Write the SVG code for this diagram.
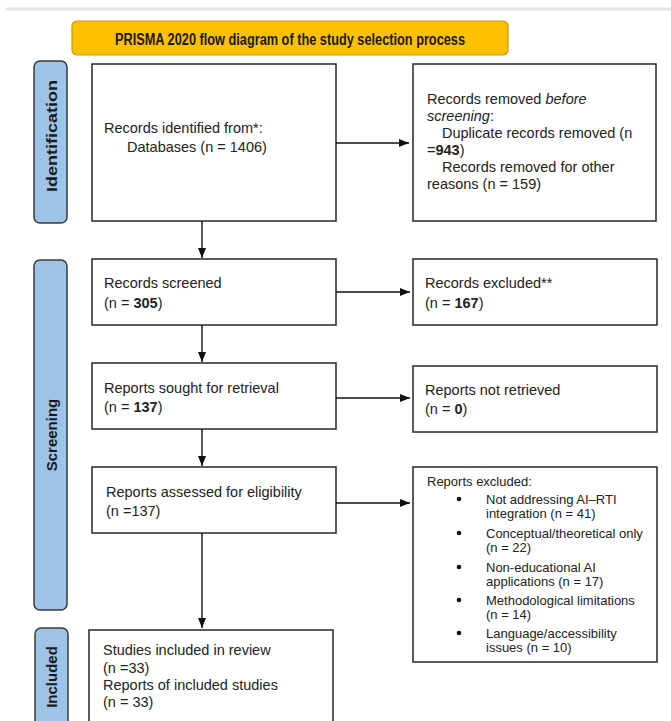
<svg xmlns="http://www.w3.org/2000/svg" width="671" height="721" viewBox="0 0 671 721">
<style>
  .box { fill: #ffffff; stroke: #262626; stroke-width: 1.5; }
  .side { fill: #9dc3e6; stroke: #3a3a3a; stroke-width: 1.5; }
  .sidetxt { font-family: "Liberation Sans", Arial, sans-serif; font-weight: bold; font-size: 15px; fill: #1a1a1a; text-anchor: middle; }
  .t { font-family: "Liberation Sans", Arial, sans-serif; font-size: 14.5px; fill: #222222; }
  .s { font-family: "Liberation Sans", Arial, sans-serif; font-size: 13px; fill: #222222; }
  .b { font-weight: bold; }
  .i { font-style: italic; }
  .conn { stroke: #111111; stroke-width: 1.4; fill: none; }
</style>
<defs>
  <marker id="arr" viewBox="0 0 10 8" refX="10" refY="4" markerWidth="10" markerHeight="8" markerUnits="userSpaceOnUse" orient="auto">
    <path d="M0,0 L10,4 L0,8 Z" fill="#111111"/>
  </marker>
</defs>
<rect width="671" height="721" fill="#ffffff"/>
<line x1="6" y1="9" x2="671" y2="9" stroke="#e3e3e3" stroke-width="3"/>

<g id="title">
  <rect x="72" y="21" width="436" height="34" rx="5" fill="#ffc000" stroke="#c99a06" stroke-width="1.2"/>
  <text x="290" y="45" text-anchor="middle" font-family="'Liberation Sans', Arial, sans-serif" font-weight="bold" font-size="16" fill="#1a1a1a" textLength="350" lengthAdjust="spacingAndGlyphs">PRISMA 2020 flow diagram of the study selection process</text>
</g>

<g id="phase-identification">
  <rect class="side" x="34" y="61" width="33" height="162" rx="6"/>
  <text class="sidetxt" transform="translate(57,136) rotate(-90)" textLength="112" lengthAdjust="spacingAndGlyphs">Identification</text>
</g>
<g id="phase-screening">
  <rect class="side" x="34" y="260" width="33" height="350" rx="6"/>
  <text class="sidetxt" transform="translate(57,435) rotate(-90)">Screening</text>
</g>
<g id="phase-included">
  <rect class="side" x="35" y="628" width="33" height="110" rx="6"/>
  <text class="sidetxt" transform="translate(57,677) rotate(-90)">Included</text>
</g>

<g id="records-identified">
  <rect class="box" x="92" y="64" width="244" height="157"/>
  <text class="t" x="104" y="133">Records identified from*:</text>
  <text class="t" x="127" y="152">Databases (n = 1406)</text>
</g>

<g id="records-removed">
  <rect class="box" x="413" y="64" width="243" height="157"/>
  <text class="t" x="427" y="104">Records removed <tspan class="i">before</tspan></text>
  <text class="t" x="427" y="121"><tspan class="i">screening</tspan>:</text>
  <text class="t" x="442" y="138">Duplicate records removed (n</text>
  <text class="t" x="427" y="155">=<tspan class="b">943</tspan>)</text>
  <text class="t" x="442" y="172">Records removed for other</text>
  <text class="t" x="427" y="189">reasons (n = 159)</text>
</g>

<g id="records-screened">
  <rect class="box" x="92" y="259" width="244" height="66"/>
  <text class="t" x="104" y="288">Records screened</text>
  <text class="t" x="104" y="308">(n = <tspan class="b">305</tspan>)</text>
</g>

<g id="records-excluded">
  <rect class="box" x="413" y="259" width="244" height="66"/>
  <text class="t" x="425" y="288">Records excluded**</text>
  <text class="t" x="425" y="308">(n = <tspan class="b">167</tspan>)</text>
</g>

<g id="reports-sought">
  <rect class="box" x="92" y="363" width="244" height="66"/>
  <text class="t" x="104" y="393">Reports sought for retrieval</text>
  <text class="t" x="104" y="412">(n = <tspan class="b">137</tspan>)</text>
</g>

<g id="reports-not-retrieved">
  <rect class="box" x="413" y="366" width="244" height="66"/>
  <text class="t" x="425" y="395">Reports not retrieved</text>
  <text class="t" x="425" y="414">(n = <tspan class="b">0</tspan>)</text>
</g>

<g id="reports-assessed">
  <rect class="box" x="92" y="467" width="244" height="66"/>
  <text class="t" x="106" y="497">Reports assessed for eligibility</text>
  <text class="t" x="106" y="516">(n =137)</text>
</g>

<g id="reports-excluded">
  <rect class="box" x="413" y="467" width="244" height="195"/>
  <text class="s" x="427" y="486">Reports excluded:</text>
  <circle cx="459" cy="499" r="2.3" fill="#111111"/>
  <text class="s" x="486" y="504">Not addressing AI–RTI</text>
  <text class="s" x="486" y="518">integration (n = 41)</text>
  <circle cx="459" cy="533" r="2.3" fill="#111111"/>
  <text class="s" x="486" y="538">Conceptual/theoretical only</text>
  <text class="s" x="486" y="552">(n = 22)</text>
  <circle cx="459" cy="567" r="2.3" fill="#111111"/>
  <text class="s" x="486" y="572">Non-educational AI</text>
  <text class="s" x="486" y="586">applications (n = 17)</text>
  <circle cx="459" cy="600" r="2.3" fill="#111111"/>
  <text class="s" x="486" y="605">Methodological limitations</text>
  <text class="s" x="486" y="619">(n = 14)</text>
  <circle cx="459" cy="633" r="2.3" fill="#111111"/>
  <text class="s" x="486" y="638">Language/accessibility</text>
  <text class="s" x="486" y="652">issues (n = 10)</text>
</g>

<g id="studies-included">
  <rect class="box" x="89" y="630" width="244" height="110"/>
  <text class="t" x="103" y="655">Studies included in review</text>
  <text class="t" x="103" y="673">(n =33)</text>
  <text class="t" x="103" y="690">Reports of included studies</text>
  <text class="t" x="103" y="707">(n = 33)</text>
</g>

<g id="connectors">
  <line class="conn" x1="336" y1="143" x2="409" y2="143" marker-end="url(#arr)"/>
  <line class="conn" x1="202" y1="221" x2="202" y2="258" marker-end="url(#arr)"/>
  <line class="conn" x1="336" y1="292" x2="410" y2="292" marker-end="url(#arr)"/>
  <line class="conn" x1="202" y1="325" x2="202" y2="362" marker-end="url(#arr)"/>
  <line class="conn" x1="336" y1="398" x2="410" y2="398" marker-end="url(#arr)"/>
  <line class="conn" x1="202" y1="429" x2="202" y2="466" marker-end="url(#arr)"/>
  <line class="conn" x1="336" y1="503" x2="410" y2="503" marker-end="url(#arr)"/>
  <line class="conn" x1="202" y1="533" x2="202" y2="628" marker-end="url(#arr)"/>
</g>
</svg>
